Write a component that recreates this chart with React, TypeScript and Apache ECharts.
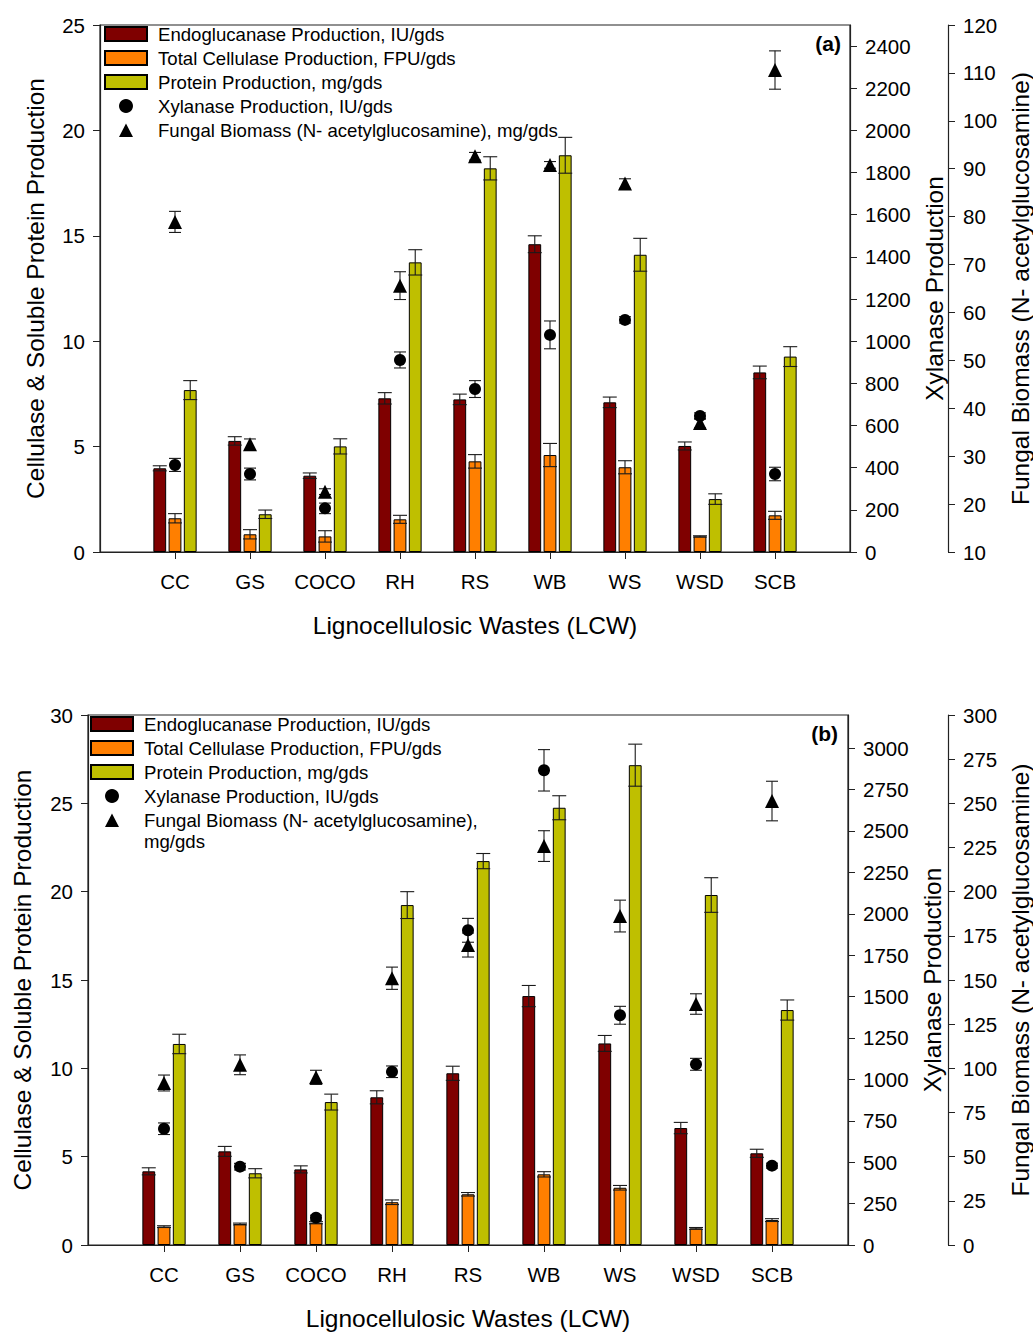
import React, { useEffect, useRef } from "react";
import * as echarts from "echarts";

const categories = ["CC", "GS", "COCO", "RH", "RS", "WB", "WS", "WSD", "SCB"];

// Panel (a)
const endoA = [3.97, 5.27, 3.62, 7.29, 7.24, 14.6, 7.1, 5.03, 8.52];
const endoAErr = [0.12, 0.2, 0.13, 0.27, 0.25, 0.4, 0.25, 0.19, 0.3];
const fpuA = [1.6, 0.84, 0.74, 1.55, 4.3, 4.6, 4.02, 0.74, 1.74];
const fpuAErr = [0.22, 0.22, 0.27, 0.19, 0.32, 0.55, 0.31, 0.03, 0.19];
const protA = [7.68, 1.79, 5.01, 13.74, 18.2, 18.82, 14.1, 2.51, 9.27];
const protAErr = [0.45, 0.2, 0.36, 0.6, 0.55, 0.85, 0.78, 0.25, 0.47];
const xylA = [413, 370, 207, 911, 773, 1030, 1101, 645, 370];
const xylAErr = [31, 28, 25, 38, 40, 66, 15, 15, 32];
const fungA = [78.9, 32.5, 22.6, 65.6, 92.6, 90.8, 86.9, 36.9, 110.6];
const fungAErr = [2.2, 1.1, 0.6, 2.9, 0.8, 0.7, 1.0, 1.0, 4];

// Panel (b)
const endoB = [4.17, 5.3, 4.28, 8.36, 9.72, 14.09, 11.41, 6.62, 5.19];
const endoBErr = [0.2, 0.28, 0.2, 0.37, 0.4, 0.6, 0.45, 0.32, 0.23];
const fpuB = [1.04, 1.19, 1.26, 2.42, 2.87, 4.0, 3.24, 0.94, 1.41];
const fpuBErr = [0.05, 0.05, 0.06, 0.13, 0.1, 0.15, 0.13, 0.05, 0.08];
const protB = [11.38, 4.06, 8.09, 19.24, 21.73, 24.75, 27.16, 19.81, 13.3];
const protBErr = [0.55, 0.26, 0.45, 0.76, 0.43, 0.68, 1.19, 0.98, 0.57];
const xylB = [702, 473, 165, 1046, 1900, 2866, 1387, 1091, 479];
const xylBErr = [35, 20, 15, 35, 72, 125, 54, 36, 15];
const fungB = [91.7, 102, 94.9, 151, 169.8, 225.8, 186.2, 136.4, 251.3];
const fungBErr = [4.5, 5.6, 4, 6.3, 6.8, 8.7, 9, 5.8, 11.2];

const N1 = "Endoglucanase Production, IU/gds";
const N2 = "Total Cellulase Production, FPU/gds";
const N3 = "Protein Production, mg/gds";
const N4 = "Xylanase Production, IU/gds";
const N5 = "Fungal Biomass (N- acetylglucosamine), mg/gds";
const N5_LINE1 = "Fungal Biomass (N- acetylglucosamine),";
const N5_LINE2 = "mg/gds";

const FONT = "Liberation Sans, Arial, Helvetica, sans-serif";
const RED = "#7F0000";
const ORANGE = "#FF7F00";
const YELLOW = "#BFBF00";
const AXC = "#222";

const BAR_W = 12.8;
const BAR_GAP = 0.19;
const OFF = BAR_W * (1 + BAR_GAP);

const TRI_ICON = "path://M0,0L0.01,0M42,14L42.01,14M14,14L21,0.5L28,14Z";

const xCats = [" ", ...categories, "  "];

function errSeries(gi: number, yi: number, vals: number[], errs: number[], off: number, capW: number, z: number) {
  return {
    type: "custom",
    xAxisIndex: gi,
    yAxisIndex: yi,
    z,
    silent: true,
    data: vals.map((v, i) => [i + 1, v, errs[i]]),
    encode: { x: 0, y: 1 },
    renderItem: (params: any, api: any) => {
      const x = api.value(0);
      const v = api.value(1);
      const e = api.value(2);
      const t = api.coord([x, v + e]);
      const b = api.coord([x, v - e]);
      const cx = t[0] + off;
      const st = { stroke: "#1a1a1a", lineWidth: 1.1 };
      return {
        type: "group",
        children: [
          { type: "line", shape: { x1: cx, y1: t[1], x2: cx, y2: b[1] }, style: st },
          { type: "line", shape: { x1: cx - capW / 2, y1: t[1], x2: cx + capW / 2, y2: t[1] }, style: st },
          { type: "line", shape: { x1: cx - capW / 2, y1: b[1], x2: cx + capW / 2, y2: b[1] }, style: st },
        ],
      };
    },
  };
}

function barSeries(name: string, gi: number, yi: number, vals: number[], color: string) {
  return {
    type: "bar",
    name,
    xAxisIndex: gi,
    yAxisIndex: yi,
    barWidth: BAR_W,
    barGap: `${BAR_GAP * 100}%`,
    data: vals.map((v, i) => [i + 1, v]),
    itemStyle: { color, borderColor: "#000", borderWidth: 1 },
    z: 2,
  };
}

function scatterSeries(name: string, gi: number, yi: number, vals: number[], symbol: string, size: number) {
  return {
    type: "scatter",
    name,
    xAxisIndex: gi,
    yAxisIndex: yi,
    symbol,
    symbolSize: size,
    data: vals.map((v, i) => [i + 1, v]),
    itemStyle: { color: "#000", opacity: 1 },
    z: 5,
  };
}

const labelStyle = { color: "#000", fontFamily: FONT, fontSize: 20.5, formatter: (v: number) => String(v) };
const nameStyle = { color: "#000", fontFamily: FONT, fontSize: 24.5 };

function xAxisDef(gi: number) {
  return {
    type: "category",
    gridIndex: gi,
    data: xCats,
    boundaryGap: false,
    axisLine: { show: true, onZero: false, lineStyle: { color: AXC, width: 1.2 } },
    axisTick: {
      show: true,
      length: 7,
      interval: (idx: number) => idx > 0 && idx < xCats.length - 1,
      lineStyle: { color: AXC },
    },
    axisLabel: { color: "#000", fontFamily: FONT, fontSize: 20.5, interval: 0, margin: 19 },
    name: "Lignocellulosic Wastes (LCW)",
    nameLocation: "middle",
    nameGap: 61,
    nameTextStyle: nameStyle,
    splitLine: { show: false },
  };
}

function yAxisDef(gi: number, opts: any) {
  return {
    type: "value",
    gridIndex: gi,
    nameLocation: "middle",
    nameRotate: 90,
    nameTextStyle: nameStyle,
    axisLine: { show: true, onZero: false, lineStyle: { color: AXC, width: 1.2 } },
    axisTick: { show: true, length: 7, lineStyle: { color: AXC } },
    axisLabel: { ...labelStyle, margin: 15 },
    splitLine: { show: false },
    ...opts,
  };
}

function legendDef(left: number, top: number, wrap: boolean) {
  return {
    orient: "vertical",
    left,
    top,
    itemWidth: 42,
    itemHeight: 14,
    itemGap: 5,
    padding: 0,
    textStyle: { color: "#000", fontFamily: FONT, fontSize: 18.6, padding: [0, 0, 0, 6] },
    formatter: (n: string) => (wrap && n === N5 ? N5_LINE1 : n),
    data: [
      { name: N1, icon: "rect" },
      { name: N2, icon: "rect" },
      { name: N3, icon: "rect" },
      { name: N4, icon: "circle" },
      { name: N5, icon: TRI_ICON },
    ],
    selectedMode: false,
  };
}

export default function App() {
  const ref = useRef<HTMLDivElement>(null);
  useEffect(() => {
    if (!ref.current) return;
    const chart = echarts.init(ref.current, undefined, { renderer: "svg" });
    const series: any[] = [];
    const panels = [
      { gi: 0, y0: 0, endo: endoA, endoE: endoAErr, fpu: fpuA, fpuE: fpuAErr, prot: protA, protE: protAErr, xyl: xylA, xylE: xylAErr, fung: fungA, fungE: fungAErr },
      { gi: 1, y0: 3, endo: endoB, endoE: endoBErr, fpu: fpuB, fpuE: fpuBErr, prot: protB, protE: protBErr, xyl: xylB, xylE: xylBErr, fung: fungB, fungE: fungBErr },
    ];
    panels.forEach((p) => {
      series.push(barSeries(N1, p.gi, p.y0, p.endo, RED));
      series.push(barSeries(N2, p.gi, p.y0, p.fpu, ORANGE));
      series.push(barSeries(N3, p.gi, p.y0, p.prot, YELLOW));
      series.push(errSeries(p.gi, p.y0, p.endo, p.endoE, -OFF, 14, 3));
      series.push(errSeries(p.gi, p.y0, p.fpu, p.fpuE, 0, 14, 3));
      series.push(errSeries(p.gi, p.y0, p.prot, p.protE, OFF, 14, 3));
      series.push(errSeries(p.gi, p.y0 + 1, p.xyl, p.xylE, 0, 12, 4));
      series.push(errSeries(p.gi, p.y0 + 2, p.fung, p.fungE, 0, 12, 4));
      series.push(scatterSeries(N4, p.gi, p.y0 + 1, p.xyl, "circle", 12));
      series.push(scatterSeries(N5, p.gi, p.y0 + 2, p.fung, "triangle", 14));
    });

    chart.setOption({
      animation: false,
      backgroundColor: "#fff",
      grid: [
        { left: 100, top: 25, width: 750, height: 527, show: true, borderColor: AXC, borderWidth: 1.2, backgroundColor: "transparent", outerBoundsMode: "none", containLabel: false },
        { left: 88, top: 715, width: 760, height: 530, show: true, borderColor: AXC, borderWidth: 1.2, backgroundColor: "transparent", outerBoundsMode: "none", containLabel: false },
      ],
      legend: [legendDef(104, 24.5, false), legendDef(90, 714.5, true)],
      xAxis: [xAxisDef(0), xAxisDef(1)],
      yAxis: [
        yAxisDef(0, { position: "left", min: 0, max: 25, interval: 5, name: "Cellulase & Soluble Protein Production", nameGap: 52 }),
        yAxisDef(0, { position: "right", min: 0, max: 2500, interval: 200, name: "Xylanase Production", nameGap: 55, axisLabel: { ...labelStyle, margin: 15, showMaxLabel: false } }),
        yAxisDef(0, { position: "right", offset: 98, min: 10, max: 120, interval: 10, name: "Fungal Biomass (N- acetylglucosamine)", nameGap: 56 }),
        yAxisDef(1, { position: "left", min: 0, max: 30, interval: 5, name: "Cellulase & Soluble Protein Production", nameGap: 53 }),
        yAxisDef(1, { position: "right", min: 0, max: 3200, interval: 250, name: "Xylanase Production", nameGap: 53, axisLabel: { ...labelStyle, margin: 15, showMaxLabel: false } }),
        yAxisDef(1, { position: "right", offset: 100, min: 0, max: 300, interval: 25, name: "Fungal Biomass (N- acetylglucosamine)", nameGap: 56 }),
      ],
      graphic: [
        { type: "text", right: 1033 - 841, top: 33, style: { text: "(a)", font: `bold 21px ${FONT}`, fill: "#000" } },
        { type: "text", right: 1033 - 838, top: 723, style: { text: "(b)", font: `bold 21px ${FONT}`, fill: "#000" } },
        { type: "text", left: 144, top: 832, style: { text: N5_LINE2, font: `18.6px ${FONT}`, fill: "#000" } },
      ],
      series,
    });
    return () => chart.dispose();
  }, []);
  return <div ref={ref} style={{ position: "absolute", left: 0, top: 0, width: 1033, height: 1333 }} />;
}
